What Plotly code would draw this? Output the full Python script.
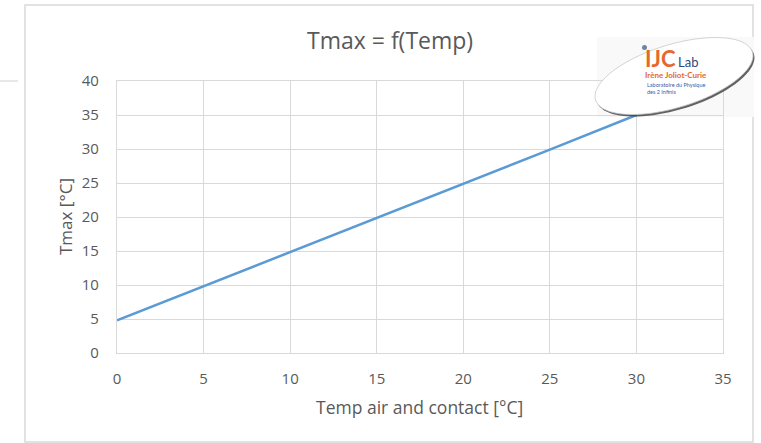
import numpy as np
import plotly.graph_objects as go

# ---- data ----
temp = [0, 5, 10, 15, 20, 25, 30]
tmax = [4.8, 9.8, 14.8, 19.9, 24.9, 29.9, 35.0]
x_ticks = [0, 5, 10, 15, 20, 25, 30, 35]
y_ticks = [0, 5, 10, 15, 20, 25, 30, 35, 40]
title_text = "Tmax = f(Temp)"
x_title = "Temp air and contact [°C]"
y_title = "Tmax [°C]"

W, H = 761, 443
L, R, T, B = 117, 38, 81, 90
PW, PH = W - L - R, H - T - B


def px(x):
    return (x - L) / PW


def py(y):
    return (H - B - y) / PH


FONT = "Open Sans"
GRAY = "#595959"

fig = go.Figure()
fig.add_trace(go.Scatter(x=temp, y=tmax, mode="lines",
                         line=dict(color="#5b9bd5", width=2.5),
                         showlegend=False, hoverinfo="skip"))

shapes = []
# chart border
shapes.append(dict(type="rect", xref="paper", yref="paper",
                   x0=px(25), x1=px(753), y0=py(442), y1=py(5),
                   line=dict(color="#d9d9d9", width=1.5), layer="below"))
# stray line at left
shapes.append(dict(type="line", xref="paper", yref="paper",
                   x0=px(0), x1=px(18), y0=py(81), y1=py(81),
                   line=dict(color="#d0d0d0", width=1)))
# faint logo background
shapes.append(dict(type="rect", xref="paper", yref="paper",
                   x0=px(597), x1=px(754), y0=py(117), y1=py(37),
                   fillcolor="#f9f9f9", line=dict(width=0), layer="below"))


def ellipse_path(cx, cy, a, b, ang_deg, n=90):
    th = np.linspace(0, 2 * np.pi, n)
    ang = np.deg2rad(ang_deg)
    xs = cx + a * np.cos(th) * np.cos(ang) - b * np.sin(th) * np.sin(ang)
    ys = cy - (a * np.cos(th) * np.sin(ang) + b * np.sin(th) * np.cos(ang))
    pts = [f"{px(xv):.5f},{py(yv):.5f}" for xv, yv in zip(xs, ys)]
    return "M " + " L ".join(pts) + " Z"


# shadow + ellipse
shapes.append(dict(type="path", xref="paper", yref="paper",
                   path=ellipse_path(675.5, 78, 82, 31.5, 17),
                   fillcolor="rgba(60,60,60,0.8)", line=dict(width=0)))
shapes.append(dict(type="path", xref="paper", yref="paper",
                   path=ellipse_path(674, 76, 82, 31.5, 17),
                   fillcolor="white", line=dict(color="#c8c8c8", width=0.8)))
# logo dot
shapes.append(dict(type="circle", xref="paper", yref="paper",
                   x0=px(642), x1=px(647), y0=py(50), y1=py(45),
                   fillcolor="#6f82a8", line=dict(width=0)))

annotations = [
    dict(text=title_text, x=px(390), y=py(40), xref="paper", yref="paper",
         showarrow=False, xanchor="center", yanchor="middle",
         font=dict(family=FONT, size=23, color=GRAY)),
    dict(text=x_title, x=px(419), y=py(407), xref="paper", yref="paper",
         showarrow=False, xanchor="center", yanchor="middle",
         font=dict(family=FONT, size=17.5, color=GRAY)),
    dict(text=y_title, x=px(65), y=py(217), xref="paper", yref="paper",
         showarrow=False, xanchor="center", yanchor="middle", textangle=-90,
         font=dict(family=FONT, size=17, color=GRAY)),
    # logo text
    dict(text="<b>IJC</b>", x=px(643), y=py(58), xref="paper", yref="paper",
         showarrow=False, xanchor="left", yanchor="middle",
         font=dict(family="Lato", size=22, color="#e4692c")),
    dict(text="Lab", x=px(676), y=py(62), xref="paper", yref="paper",
         showarrow=False, xanchor="left", yanchor="middle",
         font=dict(family="Lato", size=13, color="#2f4a7a")),
    dict(text="<b>Irène Joliot-Curie</b>", x=px(676), y=py(75.5), xref="paper", yref="paper",
         showarrow=False, xanchor="center", yanchor="middle",
         font=dict(family="Lato", size=8, color="#e4692c")),
    dict(text="Laboratoire du Physique<br>des 2 Infinis", x=px(645), y=py(88),
         xref="paper", yref="paper", showarrow=False, xanchor="left", yanchor="middle",
         align="left",
         font=dict(family="Lato", size=5.5, color="#3b5ea8")),
]

axis_common = dict(showgrid=True, gridcolor="#d9d9d9", gridwidth=1,
                   showline=True, linecolor="#d9d9d9", linewidth=1.3, mirror=True,
                   zeroline=False, ticks="", fixedrange=True,
                   tickfont=dict(family=FONT, size=15, color=GRAY))

fig.update_layout(
    width=W, height=H,
    margin=dict(l=L, r=R, t=T, b=B),
    paper_bgcolor="white", plot_bgcolor="white",
    xaxis=dict(range=[0, 35], tickvals=x_ticks, ticklabelstandoff=12, **axis_common),
    yaxis=dict(range=[0, 40], tickvals=y_ticks, ticklabelstandoff=14, **axis_common),
    shapes=shapes, annotations=annotations,
)

fig.write_html("out.html", config={"displayModeBar": False})
